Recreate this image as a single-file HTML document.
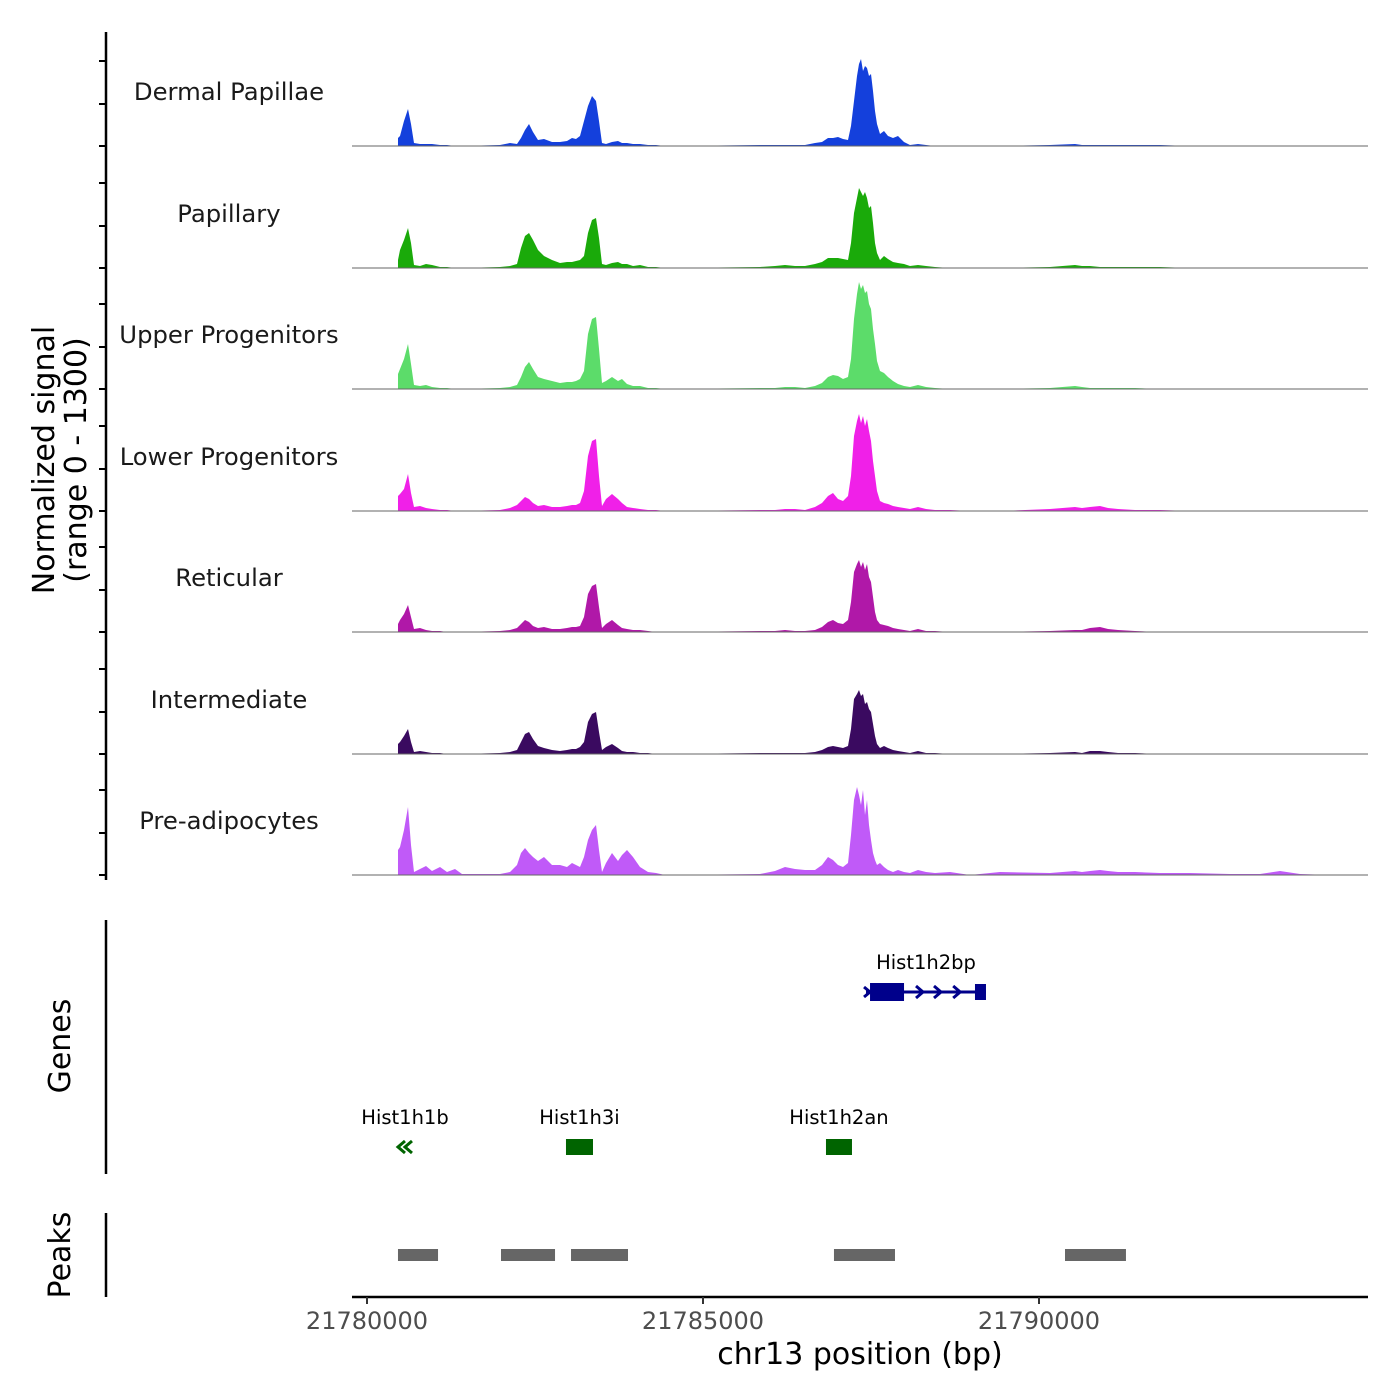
<!DOCTYPE html>
<html><head><meta charset="utf-8"><style>
html,body{margin:0;padding:0;background:#fff;}
svg{display:block;font-family:"DejaVu Sans","Liberation Sans",sans-serif;}
</style></head><body>
<svg id="chart" width="1400" height="1400" viewBox="0 0 1400 1400"></svg>
<script>
const trackNames = ["Dermal Papillae","Papillary","Upper Progenitors","Lower Progenitors","Reticular","Intermediate","Pre-adipocytes"];
const trackColors = ["#1440dc","#1aaa0a","#5cdc6a","#f020e8","#b018a8","#3a0a60","#c05af8"];
const positions = [
21780461,21780491,21780551,21780610,21780655,21780699,21780789,21780878,21780967,21781086,21781190,21781310,21781414,
21781979,21782128,21782232,21782292,21782351,21782411,21782470,21782545,21782634,21782753,21782872,21782976,21783051,21783110,21783170,21783229,21783289,21783348,21783408,21783452,21783497,21783557,21783646,21783735,21783795,21783869,21783958,21784063,21784182,21784301,21784435,21784583,
21785848,21786071,21786220,21786369,21786518,21786667,21786771,21786860,21786935,21787009,21787083,21787158,21787202,21787247,21787291,21787321,21787351,21787381,21787411,21787440,21787470,21787500,21787530,21787559,21787589,21787634,21787693,21787753,21787827,21787902,21787991,21788080,21788199,21788318,21788452,21788676,21788973,21789420,21790164,21790536,21790640,21790759,21790908,21791027,21791176,21791429,21791801,21792247,21792842,21793289,21793586,21793884,21794330];
const sigDermalPapillae = [8,10,25,37,22,3,2,2,2,1,1,0,0,
1,3,2,8,16,22,14,6,7,4,4,5,8,7,10,25,40,50,45,25,3,2,4,5,3,3,2,2,1,1,0,0,
1,1,1,1,1,3,4,8,8,9,7,6,20,45,70,82,87,75,80,78,70,72,55,35,22,12,15,10,8,10,4,1,2,1,0,0,0,0,1,2,1,1,1,1,1,1,1,0,0,0,0,0,0];
const sigPapillary = [8,18,28,40,25,3,2,4,3,1,1,0,0,
1,2,4,20,32,35,28,18,12,8,5,6,6,7,8,12,35,48,50,30,4,3,5,6,4,4,2,3,1,1,0,0,
1,2,3,2,2,4,6,10,10,10,9,8,25,55,70,80,76,72,76,70,60,62,45,25,15,8,12,9,6,5,4,2,3,2,1,0,0,0,1,3,2,2,1,1,1,1,1,0,0,0,0,0,0];
const sigUpper = [15,20,30,45,25,4,3,4,2,1,1,0,0,
1,2,4,12,22,27,20,12,10,8,6,7,7,8,10,18,55,70,72,40,6,8,12,8,10,5,3,3,1,1,0,0,
1,1,2,2,1,3,6,12,14,13,10,12,30,70,95,107,100,104,96,98,85,80,60,45,28,18,16,12,8,5,3,2,4,2,1,0,0,0,1,3,2,1,1,1,1,1,0,0,0,0,0,0,0];
const sigLower = [15,17,22,37,18,4,5,3,2,1,1,0,0,
1,3,6,10,14,12,8,5,6,4,4,5,6,6,8,20,55,70,72,35,5,12,17,12,8,4,3,2,1,1,0,0,
1,1,2,2,1,4,8,15,18,12,10,15,35,75,90,97,88,95,85,92,80,70,50,35,20,10,8,7,5,4,3,2,4,2,1,1,0,0,2,4,3,4,5,3,2,1,1,0,0,0,0,0,0];
const sigReticular = [8,12,18,27,15,3,4,2,1,1,0,0,0,
1,2,4,8,12,10,6,4,5,3,3,4,5,5,6,15,38,46,48,25,4,8,12,7,4,3,2,2,1,0,0,0,
1,1,2,1,1,2,5,10,12,9,8,12,30,60,68,72,65,70,62,68,55,50,35,20,12,8,7,6,4,3,2,1,3,1,1,0,0,0,1,2,2,4,5,3,2,1,0,0,0,0,0,0,0];
const sigIntermediate = [10,12,18,25,12,2,3,2,1,1,0,0,0,
1,2,4,12,20,22,15,8,6,4,3,4,5,5,7,12,32,40,42,22,4,7,10,6,3,2,2,1,1,0,0,0,
1,1,1,1,1,2,4,7,8,7,6,8,25,55,60,64,58,60,50,52,45,42,30,18,10,6,8,6,4,3,2,1,3,1,1,0,0,0,1,2,1,3,3,2,1,1,0,0,0,0,0,0,0];
const sigPreadipo = [25,28,45,68,30,3,6,9,4,8,3,6,1,
1,3,10,22,27,22,18,14,18,10,10,8,12,10,8,18,35,45,50,25,3,12,22,14,20,25,18,8,3,2,0,0,
1,4,8,6,5,5,10,18,15,10,8,12,40,75,88,80,70,85,60,75,50,35,22,15,10,12,8,5,3,5,3,2,5,3,2,3,0,3,2,4,3,4,5,4,3,3,2,2,1,1,4,1,0];
const xTicks = [21780000,21785000,21790000];
const peakStarts = [21780461,21781994,21783036,21786949,21790387];
const peakEnds = [21781057,21782798,21783884,21787857,21791294];
const geneNames = ["Hist1h2bp","Hist1h1b","Hist1h3i","Hist1h2an"];
const geneStarts = [21787426,21780461,21782961,21786830];
const geneEnds = [21789211,21780670,21783363,21787217];
const geneStrands = ["+","-","+","+"];
const geneRows = [0,1,1,1];

const signals=[sigDermalPapillae,sigPapillary,sigUpper,sigLower,sigReticular,sigIntermediate,sigPreadipo];
const NS="http://www.w3.org/2000/svg";
const svg=document.getElementById('chart');
function mk(tag,attrs,parent){const e=document.createElementNS(NS,tag);for(const k in attrs)e.setAttribute(k,attrs[k]);(parent||svg).appendChild(e);return e;}
const X0=352,X1=1368;
const xs=bp=>367+(bp-21780000)*(336/5000);
const baselines=[146,268,389,511,632,754,875];
const yMax=121, trackH=121;
const ys=(v,b)=>b-v/yMax*trackH;

let ax=mk('line',{x1:106,y1:32,x2:106,y2:880,stroke:'#000','stroke-width':2.5});

baselines.forEach(b=>{[0,42,85].forEach(o=>{let t=mk('line',{x1:99,x2:106,y1:b-o,y2:b-o,stroke:'#000','stroke-width':2});
});});
let yt=mk('text',{transform:'translate(54,460) rotate(-90)','text-anchor':'middle','font-size':30});

mk('tspan',{x:0,dy:0},yt).textContent='Normalized signal';
mk('tspan',{x:0,dy:32},yt).textContent='(range 0 - 1300)';

signals.forEach((s,i)=>{
  const b=baselines[i];
  let d='M'+xs(positions[0])+','+b;
  s.forEach((v,j)=>{d+=' L'+xs(positions[j]).toFixed(1)+','+ys(v,b).toFixed(1);});
  d+=' L'+xs(positions[positions.length-1]).toFixed(1)+','+b+' Z';
  const p=mk('path',{d:d,fill:trackColors[i]});
  
  
  const l=mk('line',{x1:X0,x2:X1,y1:b,y2:b,stroke:'#666','stroke-width':1});
  
  const t=mk('text',{x:229,y:b-46,'text-anchor':'middle','font-size':24.3,fill:'#1a1a1a'});
  t.textContent=trackNames[i];
  
});

let ga=mk('line',{x1:106,y1:920,x2:106,y2:1174,stroke:'#000','stroke-width':2.5});

let gt=mk('text',{transform:'translate(70,1046) rotate(-90)','text-anchor':'middle','font-size':30});
gt.textContent='Genes';
const rowY=[992,1147];
geneNames.forEach((n,i)=>{
  const y=rowY[geneRows[i]], col=geneRows[i]==0?'#00008b':'#006400';
  const g=mk('g',{});
  
  const a=xs(geneStarts[i]),e=xs(geneEnds[i]);
  const lb=mk('text',{x:(a+e)/2,y:y-23,'text-anchor':'middle','font-size':19.5,fill:'#000'},g);lb.textContent=n;
  if(i===0){
    mk('line',{x1:a,x2:e,y1:y,y2:y,stroke:col,'stroke-width':3},g);
    mk('rect',{x:a+4,y:y-9,width:34,height:18,fill:col},g);
    mk('rect',{x:e-11,y:y-8,width:11,height:16,fill:col},g);
    mk('path',{d:`M${a-2},${y-5} L${a+4},${y} L${a-2},${y+5}`,stroke:col,fill:'none','stroke-width':3},g);
    [0.45,0.6,0.76].forEach(f=>{const cx=a+(e-a)*f;mk('path',{d:`M${cx-4},${y-6} L${cx+3},${y} L${cx-4},${y+6}`,stroke:col,fill:'none','stroke-width':3},g);});
  } else if(geneStrands[i]==='-'){
    [a+3,a+10].forEach(cx=>mk('path',{d:`M${cx+4},${y-6} L${cx-3},${y} L${cx+4},${y+6}`,stroke:col,fill:'none','stroke-width':3},g));
  } else {
    mk('rect',{x:a,y:y-8,width:e-a,height:16,fill:col},g);
  }
});

let pa=mk('line',{x1:106,y1:1213,x2:106,y2:1297,stroke:'#000','stroke-width':2.5});

let pt=mk('text',{transform:'translate(70,1255) rotate(-90)','text-anchor':'middle','font-size':30});
pt.textContent='Peaks';
peakStarts.forEach((s,i)=>{
  const r=mk('rect',{x:xs(s),y:1249,width:xs(peakEnds[i])-xs(s),height:12,fill:'#666'});
  
});

let xa=mk('line',{x1:X0,x2:X1,y1:1297,y2:1297,stroke:'#000','stroke-width':2.5});

xTicks.forEach(t=>{
  const tk=mk('line',{x1:xs(t),x2:xs(t),y1:1297,y2:1304,stroke:'#333','stroke-width':2});
  
  const tl=mk('text',{x:xs(t),y:1329,'text-anchor':'middle','font-size':24,fill:'#4d4d4d'});
  tl.textContent=t;
});
let xt=mk('text',{x:860,y:1364,'text-anchor':'middle','font-size':30,fill:'#000'});
xt.textContent='chr13 position (bp)';
</script>
</body></html>
